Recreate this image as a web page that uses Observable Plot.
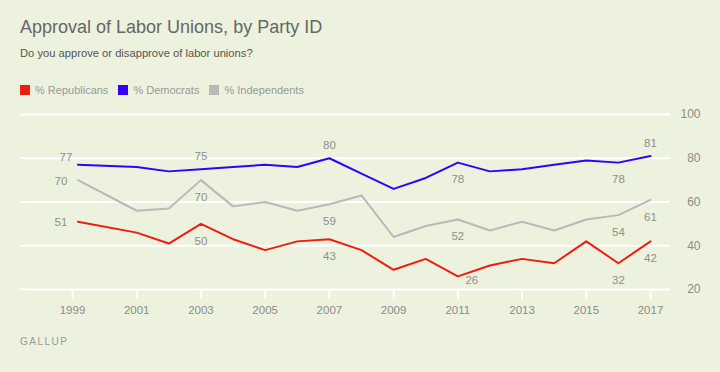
<!DOCTYPE html>
<html>
<head>
<meta charset="utf-8">
<script src="https://cdn.jsdelivr.net/npm/d3@7"></script>
<script src="https://cdn.jsdelivr.net/npm/@observablehq/plot@0.6"></script>
<style>
  html, body { margin: 0; padding: 0; background: #ecf2dd; }
  #wrap { position: relative; width: 720px; height: 372px; overflow: hidden; background: #ecf2dd;
          font-family: "Liberation Sans", Arial, sans-serif; }
  #head { position: relative; height: 105px; }
  #title { position: absolute; left: 20px; top: 18px; margin: 0; font-size: 18px; line-height: 18px;
           font-weight: normal; color: #666; white-space: nowrap; }
  #subtitle { position: absolute; left: 20px; top: 48px; font-size: 11.2px; line-height: 11px; color: #555; white-space: nowrap; }
  #legend { position: absolute; left: 20px; top: 84.7px; font-size: 11px; line-height: 11px; color: #999; white-space: nowrap; display: flex; }
  .item { display: flex; align-items: center; margin-right: 10px; }
  .sw { width: 10px; height: 10px; margin-right: 5px; display: inline-block; }
  #chart svg { display: block; }
  #source { position: absolute; left: 20px; top: 337px; font-size: 10px; line-height: 10px; letter-spacing: 1.5px; color: #9a9a9a; }
</style>
</head>
<body>
<div id="wrap">
  <div id="head">
    <div id="title">Approval of Labor Unions, by Party ID</div>
    <div id="subtitle">Do you approve or disapprove of labor unions?</div>
    <div id="legend"></div>
  </div>
  <div id="chart"></div>
  <div id="source">GALLUP</div>
</div>
<script>
// ---- data ----
const years = [1999.17, 2001, 2002, 2003, 2004, 2005, 2006, 2007, 2008, 2009, 2010, 2011, 2012, 2013, 2014, 2015, 2016, 2017];
const republicans = [51, 46, 41, 50, 43, 38, 42, 43, 38, 29, 34, 26, 31, 34, 32, 42, 32, 42];
const democrats = [77, 76, 74, 75, 76, 77, 76, 80, 73, 66, 71, 78, 74, 75, 77, 79, 78, 81];
const independents = [70, 56, 57, 70, 58, 60, 56, 59, 63, 44, 49, 52, 47, 51, 47, 52, 54, 61];
const parties = ["% Republicans", "% Democrats", "% Independents"];
const colors = ["#ee1d10", "#3300ff", "#b9b9b9"];
const xTicks = [1999, 2001, 2003, 2005, 2007, 2009, 2011, 2013, 2015, 2017];
const yTicks = [20, 40, 60, 80, 100];

// labelled points: [party, year]
const labelsAbove = [["% Democrats", 2003], ["% Democrats", 2007], ["% Democrats", 2017]];
const labelsBelow = [["% Democrats", 2011], ["% Democrats", 2016],
  ["% Independents", 2003], ["% Independents", 2007], ["% Independents", 2011], ["% Independents", 2016], ["% Independents", 2017],
  ["% Republicans", 2003], ["% Republicans", 2007], ["% Republicans", 2016], ["% Republicans", 2017]];
const labelsLeft = [["% Independents", 1999], ["% Republicans", 1999]];
const labelsUpperLeft = [["% Democrats", 1999]];
const labelsRight = [["% Republicans", 2011]];

// ---- build table ----
const seriesValues = [republicans, democrats, independents];
const rows = [];
parties.forEach((p, k) => years.forEach((yr, i) => rows.push({party: p, year: yr, value: seriesValues[k][i]})));
const pick = list => list.map(([p, yr]) => rows.find(r => r.party === p && Math.floor(r.year) === yr));

// ---- legend ----
const legend = document.getElementById("legend");
parties.forEach((p, k) => {
  const it = document.createElement("span");
  it.className = "item";
  it.innerHTML = `<span class="sw" style="background:${colors[k]}"></span>${p}`;
  legend.appendChild(it);
});

const labelStyle = {x: "year", y: "value", text: d => String(d.value), fill: "#8f8f8f", fontSize: 11.5};

const chart = Plot.plot({
  width: 720,
  height: 215,
  marginTop: 9,
  marginBottom: 31,
  marginLeft: 20,
  marginRight: 50,
  style: {background: "transparent", fontFamily: "'Liberation Sans', Arial, sans-serif", overflow: "visible"},
  x: {domain: [1999, 2017], range: [72, 650]},
  y: {domain: [20, 100]},
  color: {domain: parties, range: colors},
  marks: [
    Plot.gridY(yTicks, {stroke: "#ffffff", strokeOpacity: 1, strokeWidth: 2}),
    Plot.axisY(yTicks, {anchor: "right", tickSize: 0, tickPadding: 30, textAnchor: "end", fill: "#8c8c8c",
      fontSize: 12, tickFormat: d => String(d), label: null}),
    Plot.axisX(xTicks, {anchor: "bottom", tickSize: 10, tickPadding: 6, stroke: "#ffffff", strokeWidth: 2,
      fill: "#8c8c8c", fontSize: 11.5, tickFormat: d => String(d), label: null}),
    Plot.line(rows, {x: "year", y: "value", z: "party", stroke: "party", strokeWidth: 2}),
    Plot.text(pick(labelsAbove), {...labelStyle, dy: -13}),
    Plot.text(pick(labelsBelow), {...labelStyle, dy: 17}),
    Plot.text(pick(labelsLeft), {...labelStyle, dx: -17, dy: 1}),
    Plot.text(pick(labelsUpperLeft), {...labelStyle, dx: -12, dy: -8}),
    Plot.text(pick(labelsRight), {...labelStyle, dx: 14, dy: 4})
  ]
});
document.getElementById("chart").appendChild(chart);
</script>
</body>
</html>
